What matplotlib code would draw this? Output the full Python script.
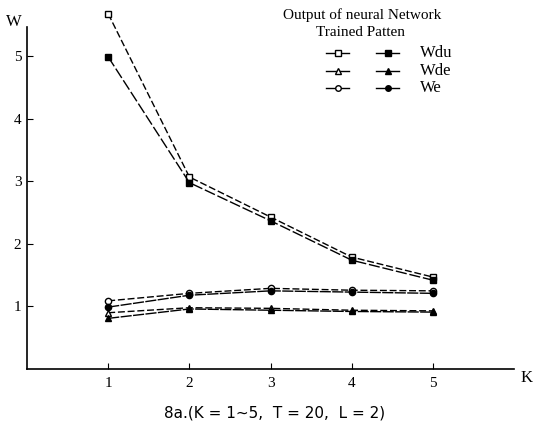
import matplotlib
matplotlib.use("Agg")
import matplotlib.pyplot as plt
from matplotlib.lines import Line2D

# datos
k = [1, 2, 3, 4, 5]
wdu_open = [5.68, 3.07, 2.43, 1.79, 1.47]
wdu_fill = [4.99, 2.98, 2.37, 1.74, 1.42]
wde_open = [0.90, 0.98, 0.97, 0.94, 0.93]
wde_fill = [0.81, 0.96, 0.94, 0.92, 0.91]
we_open = [1.09, 1.21, 1.29, 1.26, 1.25]
we_fill = [0.99, 1.18, 1.25, 1.23, 1.21]
series_names = ["Wdu", "Wde", "We"]

plt.rcParams['font.family'] = ['Liberation Serif', 'DejaVu Serif']

fig = plt.figure(figsize=(5.33, 4.38), dpi=100)
ax = fig.add_axes([0.0507, 0.1575, 0.914, 0.781])

styles = [
    (wdu_open, 's', 'white', (5, 2)),
    (wdu_fill, 's', 'black', (8, 2)),
    (wde_open, '^', 'white', (5, 2)),
    (wde_fill, '^', 'black', (8, 1)),
    (we_open, 'o', 'white', (5, 2)),
    (we_fill, 'o', 'black', (8, 1)),
]
for vals, mk, fc, dash in styles:
    ax.plot(k, vals, color='black', lw=1.0, dashes=dash, marker=mk,
            markersize=4.5, markerfacecolor=fc, markeredgecolor='black',
            markeredgewidth=1.0, clip_on=False)

ax.set_xlim(0, 6)
ax.set_ylim(0, 5.47)
ax.spines['top'].set_visible(False)
ax.spines['right'].set_visible(False)
ax.spines['left'].set_linewidth(1.2)
ax.spines['bottom'].set_linewidth(1.2)
ax.set_xticks(k)
ax.set_yticks([1, 2, 3, 4, 5])
ax.tick_params(axis='both', direction='in', length=4, labelsize=11, pad=4)
ax.tick_params(axis='x', pad=6)

fig.text(14 / 533, 1 - 22 / 438, "W", fontsize=12, ha='center', va='center')
fig.text(527 / 533, 1 - 378 / 438, "K", fontsize=12, ha='center', va='center')
fig.text(275 / 533, 1 - 413 / 438, "8a.(K = 1~5,  T = 20,  L = 2)",
         fontsize=11, ha='center', va='center', family=['DejaVu Sans'])

# leyenda dibujada a mano
fig.text(362 / 533, 1 - 15 / 438, "Output of neural Network", fontsize=11,
         ha='center', va='center')
fig.text(361 / 533, 1 - 33 / 438, "Trained Patten", fontsize=11,
         ha='center', va='center')
markers = ['s', '^', 'o']
rows_y = [53, 71, 88]
for name, mk, yy in zip(series_names, markers, rows_y):
    y = 1 - yy / 438
    fig.add_artist(Line2D([326 / 533, 349 / 533], [y, y], color='black', lw=1.0,
                          transform=fig.transFigure))
    fig.add_artist(Line2D([337.5 / 533], [y], marker=mk, markersize=4,
                          markerfacecolor='white', markeredgecolor='black',
                          transform=fig.transFigure))
    fig.add_artist(Line2D([376 / 533, 399 / 533], [y, y], color='black', lw=1.0,
                          transform=fig.transFigure))
    fig.add_artist(Line2D([387.5 / 533], [y], marker=mk, markersize=4,
                          markerfacecolor='black', markeredgecolor='black',
                          transform=fig.transFigure))
    fig.text(420 / 533, y, name, fontsize=12, ha='left', va='center')

fig.savefig("out.png", dpi=100)
